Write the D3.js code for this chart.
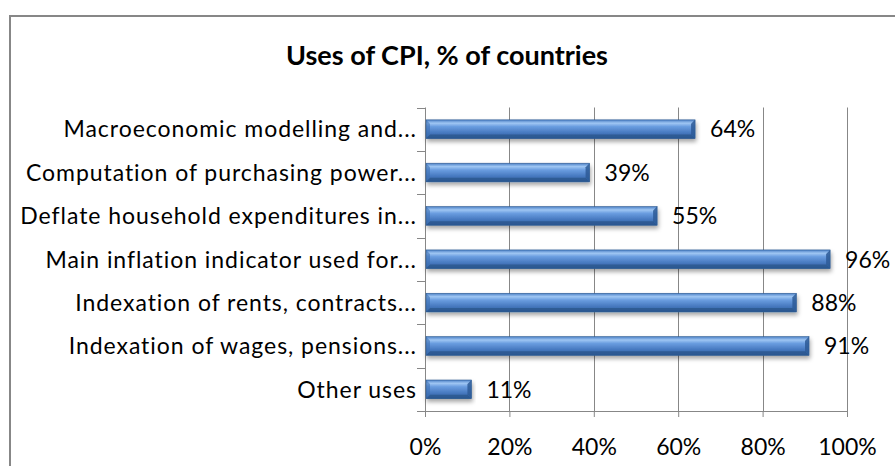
<!DOCTYPE html>
<html>
<head>
<meta charset="utf-8">
<script src="https://cdn.jsdelivr.net/npm/d3@7"></script>
<style>
  html, body { margin: 0; padding: 0; background: #fff; }
  svg { display: block; }
  text { font-family: Lato, "Open Sans", sans-serif; fill: #000; }
</style>
</head>
<body>
<div id="chart"></div>
<script>
// categories, top to bottom as shown
const categories = [
    "Macroeconomic modelling and...",
    "Computation of purchasing power...",
    "Deflate household expenditures in...",
    "Main inflation indicator used for...",
    "Indexation of rents, contracts...",
    "Indexation of wages, pensions...",
    "Other uses"
];
const values = [64, 39, 55, 96, 88, 91, 11];
const xTicks = [0, 20, 40, 60, 80, 100];
const title = "Uses of CPI, % of countries";

const width = 895, height = 466;
const margin = { top: 107.5, right: 48, bottom: 55, left: 425 };

const svg = d3.select("#chart").append("svg")
    .attr("width", width)
    .attr("height", height);

// sombra de las barras
const defs = svg.append("defs");
const shadow = defs.append("filter").attr("id", "shadow")
    .attr("x", "-10%").attr("y", "-30%").attr("width", "120%").attr("height", "190%");
shadow.append("feDropShadow")
    .attr("dx", 1).attr("dy", 3).attr("stdDeviation", 2)
    .attr("flood-color", "#000").attr("flood-opacity", 0.35);

const grad = defs.append("linearGradient").attr("id", "face")
    .attr("x1", 0).attr("y1", 0).attr("x2", 0).attr("y2", 1);
[["0%", "#4b80c6"], ["18%", "#9fc6f3"], ["36%", "#6a9de0"], ["70%", "#4678bf"], ["100%", "#30609f"]]
    .forEach(s => grad.append("stop").attr("offset", s[0]).attr("stop-color", s[1]));

// marco del gráfico (solo se ven los lados izquierdo y superior)
svg.append("rect")
    .attr("x", 10).attr("y", 16)
    .attr("width", width + 20).attr("height", height + 20)
    .attr("fill", "none")
    .attr("stroke", "#878787")
    .attr("stroke-width", 2);

svg.append("text")
    .attr("x", 447)
    .attr("y", 65)
    .attr("text-anchor", "middle")
    .style("font-weight", "bold")
    .style("font-size", "27px")
    .text(title);

const x = d3.scaleLinear()
    .domain([0, 100])
    .range([margin.left, width - margin.right]);

const y = d3.scaleBand()
    .domain(categories)
    .range([margin.top, height - margin.bottom])
    .paddingInner(0.57)
    .paddingOuter(0.285);

const y0 = margin.top, y1 = height - margin.bottom;

// líneas de cuadrícula verticales
svg.append("g")
    .selectAll("line")
    .data(xTicks.slice(1))
    .enter().append("line")
    .attr("x1", d => Math.round(x(d)) + 0.5)
    .attr("x2", d => Math.round(x(d)) + 0.5)
    .attr("y1", y0)
    .attr("y2", y1)
    .attr("stroke", "#878787")
    .attr("stroke-width", 1);

// eje x
const xAxis = svg.append("g")
    .attr("transform", `translate(0,${y1})`)
    .call(d3.axisBottom(x).tickValues(xTicks).tickFormat(d => d + "%").tickSize(6).tickPadding(22));
xAxis.select(".domain").attr("stroke", "#878787");
xAxis.selectAll(".tick line").attr("stroke", "#878787");
xAxis.selectAll(".tick text")
    .style("font-family", "Lato, sans-serif")
    .style("font-size", "23px")
    .attr("fill", "#000");

// eje y con marcas entre categorías
const step = y.step();
const bounds = d3.range(categories.length + 1).map(i => y0 + i * step);
svg.append("line")
    .attr("x1", margin.left + 0.5).attr("x2", margin.left + 0.5)
    .attr("y1", y0).attr("y2", y1)
    .attr("stroke", "#878787");
svg.append("g")
    .selectAll("line")
    .data(bounds)
    .enter().append("line")
    .attr("x1", margin.left - 8)
    .attr("x2", margin.left)
    .attr("y1", d => Math.round(d) + 0.5)
    .attr("y2", d => Math.round(d) + 0.5)
    .attr("stroke", "#878787");

svg.append("g")
    .selectAll("text")
    .data(categories)
    .enter().append("text")
    .attr("x", margin.left - 8)
    .attr("y", d => y(d) + y.bandwidth() / 2)
    .attr("dy", "0.36em")
    .attr("text-anchor", "end")
    .style("font-size", "23px")
    .style("letter-spacing", "0.95px")
    .text(d => d);

// barras con bisel
const b = 4;
const bars = svg.append("g")
    .selectAll("g")
    .data(categories.map((c, i) => ({ cat: c, value: values[i] })))
    .enter().append("g")
    .attr("filter", "url(#shadow)");

bars.each(function(d) {
    const g = d3.select(this);
    const bx = x(0) + 1, by = y(d.cat);
    const w = x(d.value) - bx, h = y.bandwidth();
    g.append("rect")
        .attr("x", bx).attr("y", by).attr("width", w).attr("height", h)
        .attr("fill", "url(#face)");
    const facet = (pts, fill, op) => g.append("polygon")
        .attr("points", pts.map(p => p.join(",")).join(" "))
        .attr("fill", fill).attr("fill-opacity", op);
    facet([[bx, by + h], [bx + w, by + h], [bx + w - b, by + h - b], [bx + b, by + h - b]], "#2a568d", 0.8);
    facet([[bx, by], [bx + b, by + b], [bx + b, by + h - b], [bx, by + h]], "#3d6fb3", 0.6);
    facet([[bx + w, by], [bx + w - b, by + b], [bx + w - b, by + h - b], [bx + w, by + h]], "#2d5b96", 0.85);
    g.append("rect")
        .attr("x", bx).attr("y", by).attr("width", w).attr("height", h)
        .attr("fill", "none").attr("stroke", "#2f5b90").attr("stroke-width", 0.6);
});

// etiquetas de valor
svg.append("g")
    .selectAll("text")
    .data(values)
    .enter().append("text")
    .attr("x", d => x(d) + 15)
    .attr("y", (d, i) => y(categories[i]) + y.bandwidth() / 2)
    .attr("dy", "0.36em")
    .style("font-size", "23px")
    .text(d => d + "%");
</script>
</body>
</html>
